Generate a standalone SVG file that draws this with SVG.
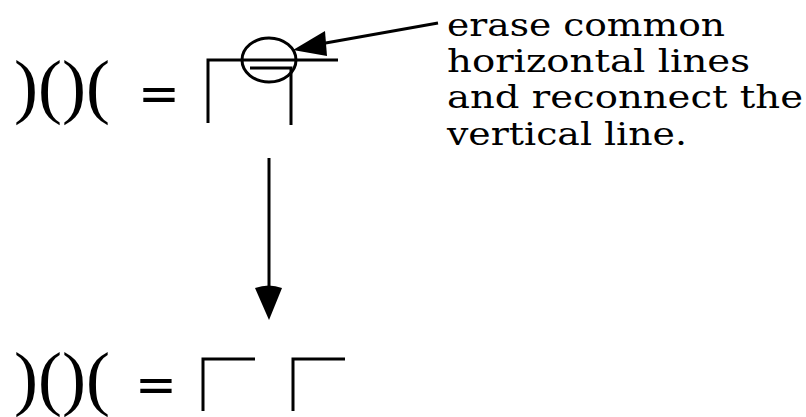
<svg xmlns="http://www.w3.org/2000/svg" width="806" height="417" viewBox="0 0 806 417">
<style>
.sym{font-family:"Liberation Serif",serif;font-size:72px;fill:#000}
.eq{font-family:"DejaVu Sans",sans-serif;font-size:50px;fill:#000}
.lbl{font-family:"DejaVu Serif","Liberation Serif",serif;font-size:31px;fill:#000}
.ln{stroke:#000;stroke-width:3;fill:none}
</style>
<rect width="806" height="417" fill="#fff"/>
<g id="top-expr">
<text class="sym" x="14" y="110">)()(</text>
<text class="eq" x="138" y="111">=</text>
<path class="ln" d="M208,123 V60 H338 M291,125 V68 H250"/>
<ellipse class="ln" cx="269" cy="60" rx="27" ry="22"/>
</g>
<g id="bottom-expr">
<text class="sym" x="14" y="402">)()(</text>
<text class="eq" x="135" y="402">=</text>
<path class="ln" d="M203,411 V359 H255 M293,411 V359 H345"/>
</g>
<g id="note">
<text class="lbl" x="447" y="36" textLength="278" lengthAdjust="spacingAndGlyphs">erase common</text>
<text class="lbl" x="447" y="72" textLength="303" lengthAdjust="spacingAndGlyphs">horizontal lines</text>
<text class="lbl" x="447" y="108" textLength="356" lengthAdjust="spacingAndGlyphs">and reconnect the</text>
<text class="lbl" x="447" y="145" textLength="240" lengthAdjust="spacingAndGlyphs">vertical line.</text>
</g>
<g id="connectors">
<line class="ln" x1="438" y1="23" x2="320" y2="44"/>
<path d="M293,50 L325,31 L327,56 Z" fill="#000"/>
<line class="ln" x1="269" y1="158" x2="269" y2="292"/>
<path d="M255,288 Q269,283 282,288 L269,320 Z" fill="#000"/>
</g>
</svg>
